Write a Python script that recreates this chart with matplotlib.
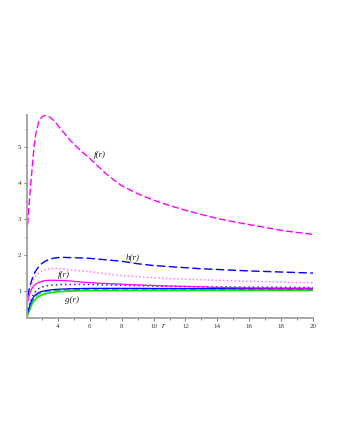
import numpy as np
import matplotlib
matplotlib.use('Agg')
import matplotlib.pyplot as plt
from matplotlib.ticker import MultipleLocator

plt.rcParams['font.family'] = ['Liberation Serif', 'DejaVu Serif']

r = [2.1, 2.2, 2.3, 2.4, 2.5, 2.6, 2.8, 3.0, 3.2, 3.5, 3.8, 4.2, 4.8, 5.5,
     6, 7, 8, 9, 10, 11, 12, 13, 14, 15, 16, 17, 18, 19, 20]

# f(r), large magenta dashed
f_big = [2.85, 3.45, 4.0, 4.5, 5.0, 5.35, 5.72, 5.85, 5.89, 5.84, 5.72, 5.5, 5.18, 4.88,
         4.69, 4.27, 3.93, 3.71, 3.53, 3.38, 3.25, 3.13, 3.02, 2.93, 2.85, 2.77, 2.69, 2.63, 2.58]
# h(r), blue dashed
h_dash = [0.85, 1.05, 1.22, 1.36, 1.47, 1.56, 1.68, 1.77, 1.83, 1.89, 1.92, 1.94, 1.93, 1.92,
          1.91, 1.87, 1.83, 1.76, 1.71, 1.68, 1.65, 1.62, 1.60, 1.58, 1.56, 1.545, 1.53, 1.515, 1.50]
# light magenta dotted
pink_dot = [0.8, 1.0, 1.15, 1.27, 1.35, 1.41, 1.5, 1.56, 1.59, 1.62, 1.63, 1.62, 1.59, 1.56,
            1.54, 1.48, 1.43, 1.40, 1.37, 1.35, 1.33, 1.315, 1.30, 1.285, 1.27, 1.26, 1.25, 1.24, 1.23]
# f(r), magenta solid
f_solid = [0.7, 0.88, 1.0, 1.1, 1.15, 1.19, 1.24, 1.27, 1.29, 1.30, 1.30, 1.295, 1.28, 1.25,
           1.235, 1.21, 1.19, 1.17, 1.155, 1.14, 1.13, 1.115, 1.10, 1.095, 1.09, 1.087, 1.085, 1.082, 1.08]
# blue dotted
blue_dot = [0.5, 0.62, 0.74, 0.85, 0.93, 0.99, 1.07, 1.11, 1.14, 1.16, 1.17, 1.18, 1.185, 1.185,
            1.18, 1.17, 1.16, 1.15, 1.14, 1.13, 1.125, 1.12, 1.115, 1.112, 1.11, 1.107, 1.105, 1.102, 1.10]
# blue solid
blue_solid = [0.4, 0.55, 0.68, 0.78, 0.85, 0.9, 0.96, 0.99, 1.01, 1.03, 1.045, 1.055, 1.065, 1.07,
              1.075, 1.075, 1.075, 1.075, 1.072, 1.07, 1.07, 1.068, 1.068, 1.067, 1.066, 1.066, 1.065, 1.065, 1.065]
# green dashed
green_dash = [0.36, 0.5, 0.62, 0.72, 0.8, 0.85, 0.92, 0.96, 0.98, 1.0, 1.015, 1.025, 1.035, 1.04,
              1.045, 1.048, 1.05, 1.05, 1.05, 1.05, 1.05, 1.048, 1.048, 1.047, 1.046, 1.046, 1.045, 1.045, 1.045]
# g(r), green solid
g_solid = [0.32, 0.45, 0.56, 0.66, 0.73, 0.78, 0.85, 0.89, 0.92, 0.95, 0.97, 0.985, 1.0, 1.01,
           1.012, 1.015, 1.017, 1.018, 1.018, 1.019, 1.019, 1.02, 1.02, 1.02, 1.02, 1.02, 1.02, 1.02, 1.02]

fig = plt.figure(figsize=(3.4, 4.4), dpi=100)
ax = fig.add_axes([27 / 340, 1 - 318 / 440, 286 / 340, 203 / 440])

ax.plot(r, g_solid, '-', color='#00ee00', linewidth=1.2)
ax.plot(r, green_dash, color='#44aa66', linewidth=1.0, dashes=(5, 2))
ax.plot(r, blue_solid, '-', color='#0000ff', linewidth=0.9)
ax.plot(r, blue_dot, color='#2222ee', linewidth=1.1, linestyle=(0, (1, 2)))
ax.plot(r, f_solid, '-', color='#ff00ff', linewidth=0.9)
ax.plot(r, pink_dot, color='#ff80ff', linewidth=1.1, linestyle=(0, (1, 1.5)))
ax.plot(r, h_dash, color='#0000ff', linewidth=1.0, dashes=(6, 2.5))
ax.plot(r, f_big, color='#ff00ff', linewidth=1.0, dashes=(5, 2))

ax.set_xlim(2.06, 20)
ax.set_ylim(0.25, 5.9)
ax.xaxis.set_major_locator(MultipleLocator(2))
ax.xaxis.set_minor_locator(MultipleLocator(1))
ax.yaxis.set_major_locator(MultipleLocator(1))
ax.yaxis.set_minor_locator(MultipleLocator(0.5))

for side in ['top', 'right']:
    ax.spines[side].set_visible(False)
for side in ['left', 'bottom']:
    ax.spines[side].set_color('#a0a0a0')
    ax.spines[side].set_linewidth(1.3)
ax.tick_params(which='both', color='#606060', labelsize=5, labelcolor='#333333',
               length=2, width=0.6, pad=2)
ax.tick_params(which='minor', length=1.5)

lab = dict(fontsize=6.5, style='italic', ha='center', va='center', color='#222222')
ax.text(6.65, 4.8, 'f(r)', **lab)
ax.text(8.7, 1.94, 'h(r)', **lab)
ax.text(4.35, 1.44, 'f(r)', **lab)
ax.text(4.9, 0.75, 'g(r)', **lab)
ax.text(10.6, -0.04, 'r', transform=ax.get_xaxis_transform(), fontsize=6,
        style='italic', ha='center', va='center', color='#222222')

fig.savefig('out.png', dpi=100)
